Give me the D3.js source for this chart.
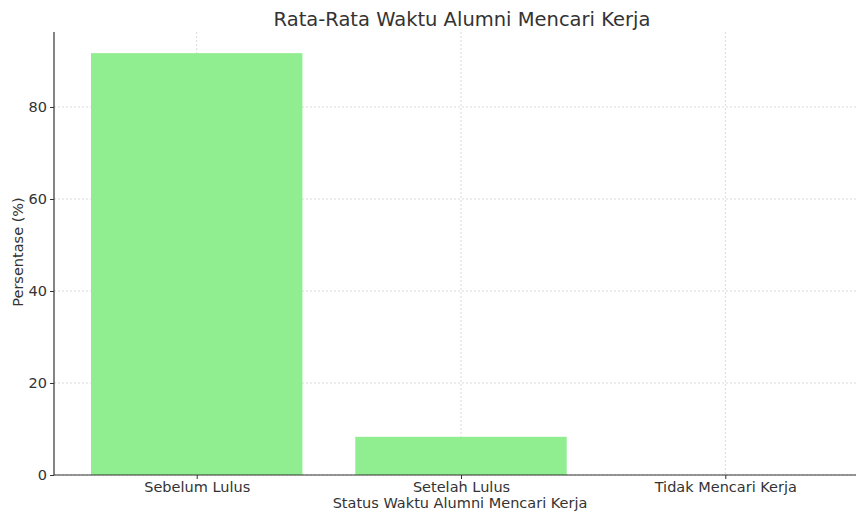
<!DOCTYPE html>
<html>
<head>
<meta charset="utf-8">
<script src="https://cdn.jsdelivr.net/npm/d3@7"></script>
<style>
  body { margin: 0; background: #fff; }
  text { font-family: "DejaVu Sans", sans-serif; fill: #333; }
</style>
</head>
<body>
<script>
// data
var categories = ["Sebelum Lulus", "Setelah Lulus", "Tidak Mencari Kerja"];
var values = [91.7, 8.3, 0];
var yTicks = [0, 20, 40, 60, 80];

var w = 856, h = 513;
var padLeft = 54, padRight = 868, padTop = 32, padBottom = 475;

var svg = d3.select("body").append("svg")
  .attr("width", w)
  .attr("height", h);

// matplotlib-like band: bars 0.8 wide, 5% margins
var x = d3.scaleLinear().domain([-0.54, 2.54]).range([padLeft, padRight]);
var y = d3.scaleLinear().domain([0, 96.3]).range([padBottom, padTop]);
var bw = x(0.8) - x(0);

// grid
svg.append("g").selectAll("line")
  .data(yTicks).enter().append("line")
  .attr("x1", padLeft).attr("x2", padRight)
  .attr("y1", function(d) { return y(d); })
  .attr("y2", function(d) { return y(d); })
  .attr("stroke", "#d0d0d0").attr("stroke-dasharray", "2,2").attr("stroke-width", 0.8);

svg.append("g").selectAll("line")
  .data(categories).enter().append("line")
  .attr("x1", function(d, i) { return x(i); })
  .attr("x2", function(d, i) { return x(i); })
  .attr("y1", padTop).attr("y2", padBottom)
  .attr("stroke", "#d0d0d0").attr("stroke-dasharray", "2,2").attr("stroke-width", 0.8);

// bars
svg.selectAll("rect")
  .data(values).enter().append("rect")
  .attr("x", function(d, i) { return x(i) - bw / 2; })
  .attr("y", function(d) { return y(d); })
  .attr("width", bw)
  .attr("height", function(d) { return padBottom - y(d); })
  .attr("fill", "#90ee90");

// axes
var yAxis = d3.axisLeft(y).tickValues(yTicks).tickSize(4).tickPadding(3);
var gy = svg.append("g").attr("transform", "translate(" + padLeft + ",0)").call(yAxis);
gy.select(".domain").attr("stroke", "#333").attr("stroke-width", 1.2).attr("d", "M0," + padTop + "V" + padBottom);
gy.selectAll(".tick line").attr("stroke", "#333");
gy.selectAll("text").style("font-size", "14.5px").style("font-family", "DejaVu Sans").attr("fill", "#333");

var xAxis = d3.axisBottom(x).tickValues([0, 1, 2])
  .tickFormat(function(d) { return categories[d]; })
  .tickSize(4).tickPadding(3);
var gx = svg.append("g").attr("transform", "translate(0," + padBottom + ")").call(xAxis);
gx.select(".domain").attr("stroke", "#333").attr("stroke-width", 1.2).attr("d", "M" + padLeft + ",0H" + padRight);
gx.selectAll(".tick line").attr("stroke", "#333");
gx.selectAll("text").style("font-size", "14.5px").style("font-family", "DejaVu Sans").attr("fill", "#333");

// labels
svg.append("text")
  .attr("x", 462).attr("y", 26)
  .attr("text-anchor", "middle")
  .style("font-size", "19.5px")
  .text("Rata-Rata Waktu Alumni Mencari Kerja");

svg.append("text")
  .attr("x", 460).attr("y", 508)
  .attr("text-anchor", "middle")
  .style("font-size", "14.5px")
  .text("Status Waktu Alumni Mencari Kerja");

svg.append("text")
  .attr("transform", "translate(23,252) rotate(-90)")
  .attr("text-anchor", "middle")
  .style("font-size", "14.5px")
  .text("Persentase (%)");
</script>
</body>
</html>
